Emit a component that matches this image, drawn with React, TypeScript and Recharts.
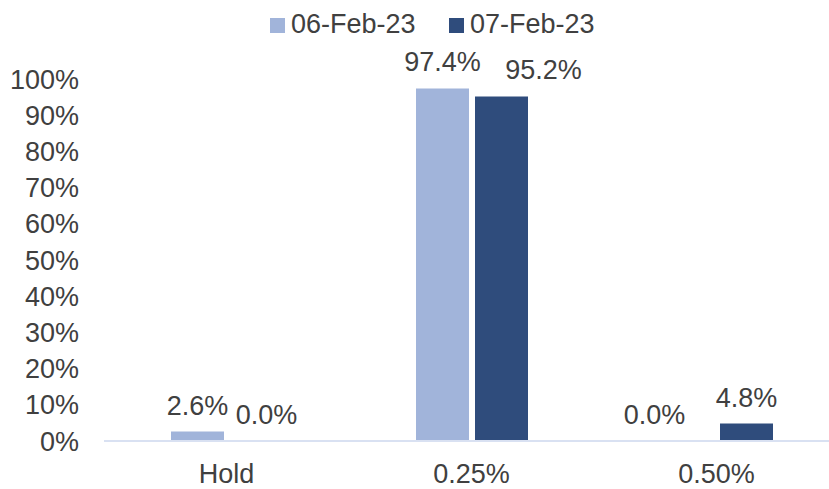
import { BarChart, Bar, XAxis, YAxis, Legend, LabelList } from "recharts";

// values
const categories = ["Hold", "0.25%", "0.50%"];
const feb06 = [0.026, 0.974, 0.0];
const feb07 = [0.0, 0.952, 0.048];
const yTicks = [0, 0.1, 0.2, 0.3, 0.4, 0.5, 0.6, 0.7, 0.8, 0.9, 1];
const seriesNames = ["06-Feb-23", "07-Feb-23"];

const LIGHT = "#A1B4DA";
const DARK = "#2F4C7C";
const TEXT = "#404040";
const FONT = "'Liberation Sans', Arial, sans-serif";

// data labels nudged sideways like the original to avoid overlaps
const labelShift: Record<string, number[]> = {
  feb06: [0, 0, -33],
  feb07: [10, 42, 0],
};

const data = categories.map((name, i) => ({
  name,
  feb06: feb06[i],
  feb07: feb07[i],
}));

const pct = (v: number, digits = 0) => `${(v * 100).toFixed(digits)}%`;

const makeLabel = (key: string) => (props: any) => {
  const { x, y, width, value, index, payload } = props;
  const i = payload && payload.name ? categories.indexOf(payload.name) : index;
  const dx = labelShift[key][i] ?? 0;
  return (
    <text
      x={x + width / 2 + dx}
      y={y - 17}
      textAnchor="middle"
      fill={TEXT}
      fontSize={27}
      fontFamily={FONT}
    >
      {pct(value, 1)}
    </text>
  );
};

const LegendContent = () => (
  <div
    style={{
      height: 79,
      position: "relative",
      fontFamily: FONT,
      fontSize: 27,
      lineHeight: "27px",
      color: TEXT,
    }}
  >
    {seriesNames.map((name, i) => (
      <div
        key={name}
        style={{
          position: "absolute",
          left: i === 0 ? 270 : 449,
          top: 11,
          display: "flex",
          alignItems: "flex-start",
          whiteSpace: "nowrap",
        }}
      >
        <span
          style={{
            display: "inline-block",
            width: 15,
            height: 15,
            marginTop: 7,
            marginRight: 6,
            background: i === 0 ? LIGHT : DARK,
          }}
        />
        <span>{name}</span>
      </div>
    ))}
  </div>
);

export default function App() {
  return (
    <div style={{ position: "absolute", left: 0, top: 0, background: "#fff" }}>
      <BarChart
        width={829}
        height={489}
        data={data}
        margin={{ top: 0, right: -10, bottom: 0, left: 0 }}
        barSize={53}
        barGap={6}
      >
        <Legend
          verticalAlign="top"
          align="left"
          content={<LegendContent />}
          wrapperStyle={{ left: 0, top: 0, width: 829 }}
        />
        <Bar dataKey="feb06" name={seriesNames[0]} fill={LIGHT} minPointSize={0.2} isAnimationActive={false}>
          <LabelList dataKey="feb06" content={makeLabel("feb06")} />
        </Bar>
        <Bar dataKey="feb07" name={seriesNames[1]} fill={DARK} minPointSize={0.2} isAnimationActive={false}>
          <LabelList dataKey="feb07" content={makeLabel("feb07")} />
        </Bar>
        <XAxis
          dataKey="name"
          height={48}
          tickLine={false}
          tickSize={0}
          tickMargin={23}
          axisLine={{ stroke: "#D9E1F2", strokeWidth: 2 }}
          tick={{ fill: TEXT, fontSize: 27, fontFamily: FONT }}
        />
        <YAxis
          width={104}
          domain={[0, 1]}
          ticks={yTicks}
          interval={0}
          axisLine={false}
          tickLine={false}
          tickSize={0}
          tickMargin={25}
          tickFormatter={(v: number) => pct(v)}
          tick={{ fill: TEXT, fontSize: 27, fontFamily: FONT }}
        />
      </BarChart>
    </div>
  );
}
